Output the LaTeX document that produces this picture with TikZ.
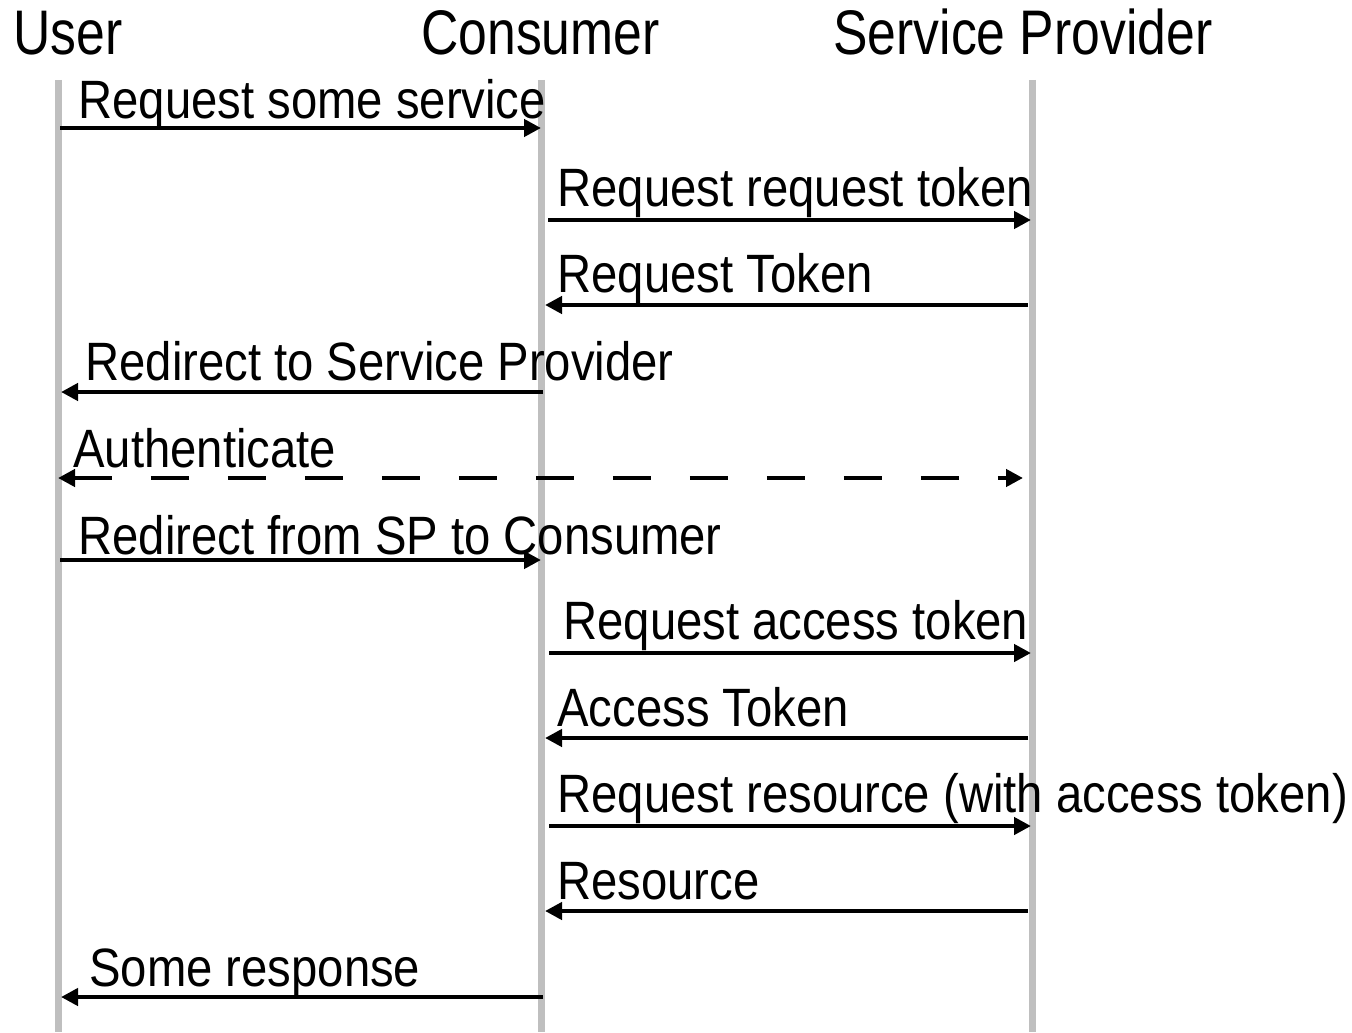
\documentclass[tikz,border=0pt]{standalone}
\usepackage{fontspec}
\setmainfont{Liberation Sans}
\newfontfamily\hdrfont{Liberation Sans}[FakeStretch=0.82]
\newfontfamily\msgfont{Liberation Sans}[FakeStretch=0.875]
\usetikzlibrary{arrows.meta}

\tikzset{
  lifeline/.style={draw=black!25, line width=3.5pt},
  header/.style={anchor=base west, inner sep=0pt, font=\hdrfont\fontsize{31.5}{36}\selectfont},
  msglabel/.style={anchor=base west, inner sep=0pt, font=\msgfont\fontsize{27}{32}\selectfont},
  msg/.style={draw=black, line width=2.3pt, -{Triangle[length=8.5pt,width=8.5pt]}},
  dmsg/.style={draw=black, line width=2.3pt, dash pattern=on 19pt off 19.5pt,
    {Triangle[length=8.5pt,width=8.5pt]}-{Triangle[length=8.5pt,width=8.5pt]}}
}

\begin{document}
\begin{tikzpicture}[x=0.5pt, y=-0.5pt]
\useasboundingbox (0,0) rectangle (1352,1032);

% participants
\node[header] (huser) at (13,55) {User};
\node[header] (hcons) at (421,55) {Consumer};
\node[header] (hsp)   at (833,55) {Service Provider};

% lifelines
\coordinate (ut) at (58,80);    \coordinate (ub) at (58,1032);
\coordinate (ct) at (541,80);   \coordinate (cb) at (541,1032);
\coordinate (st) at (1032,80);  \coordinate (sb) at (1032,1032);
\draw[lifeline] (ut) -- (ub);
\draw[lifeline] (ct) -- (cb);
\draw[lifeline] (st) -- (sb);

% 1: user -> consumer
\coordinate (m1a) at (60,128);   \coordinate (m1b) at (541,128);
\draw[msg] (m1a) -- (m1b);
\node[msglabel] (l1) at (78,119) {Request some service};

% 2: consumer -> provider
\coordinate (m2a) at (548,220);  \coordinate (m2b) at (1031,220);
\draw[msg] (m2a) -- (m2b);
\node[msglabel] (l2) at (557,206) {Request request token};

% 3: provider -> consumer
\coordinate (m3a) at (1028,305); \coordinate (m3b) at (545,305);
\draw[msg] (m3a) -- (m3b);
\node[msglabel] (l3) at (557,292) {Request Token};

% 4: consumer -> user
\coordinate (m4a) at (543,392);  \coordinate (m4b) at (61,392);
\draw[msg] (m4a) -- (m4b);
\node[msglabel] (l4) at (85,380) {Redirect to Service Provider};

% 5: user <-> provider (dashed)
\coordinate (m5a) at (58,478);   \coordinate (m5b) at (1023,478);
\draw[dmsg] (m5a) -- (m5b);
\node[msglabel] (l5) at (73,467) {Authenticate};

% 6: user -> consumer
\coordinate (m6a) at (60,560);   \coordinate (m6b) at (541,560);
\draw[msg] (m6a) -- (m6b);
\node[msglabel] (l6) at (78,554) {Redirect from SP to Consumer};

% 7: consumer -> provider
\coordinate (m7a) at (549,653);  \coordinate (m7b) at (1031,653);
\draw[msg] (m7a) -- (m7b);
\node[msglabel] (l7) at (563,639) {Request access token};

% 8: provider -> consumer
\coordinate (m8a) at (1028,738); \coordinate (m8b) at (545,738);
\draw[msg] (m8a) -- (m8b);
\node[msglabel] (l8) at (557,726) {Access Token};

% 9: consumer -> provider
\coordinate (m9a) at (549,826);  \coordinate (m9b) at (1031,826);
\draw[msg] (m9a) -- (m9b);
\node[msglabel] (l9) at (557,812) {Request resource (with access token)};

% 10: provider -> consumer
\coordinate (m10a) at (1028,911); \coordinate (m10b) at (545,911);
\draw[msg] (m10a) -- (m10b);
\node[msglabel] (l10) at (557,899) {Resource};

% 11: consumer -> user
\coordinate (m11a) at (543,997); \coordinate (m11b) at (61,997);
\draw[msg] (m11a) -- (m11b);
\node[msglabel] (l11) at (89,986) {Some response};
\end{tikzpicture}
\end{document}
